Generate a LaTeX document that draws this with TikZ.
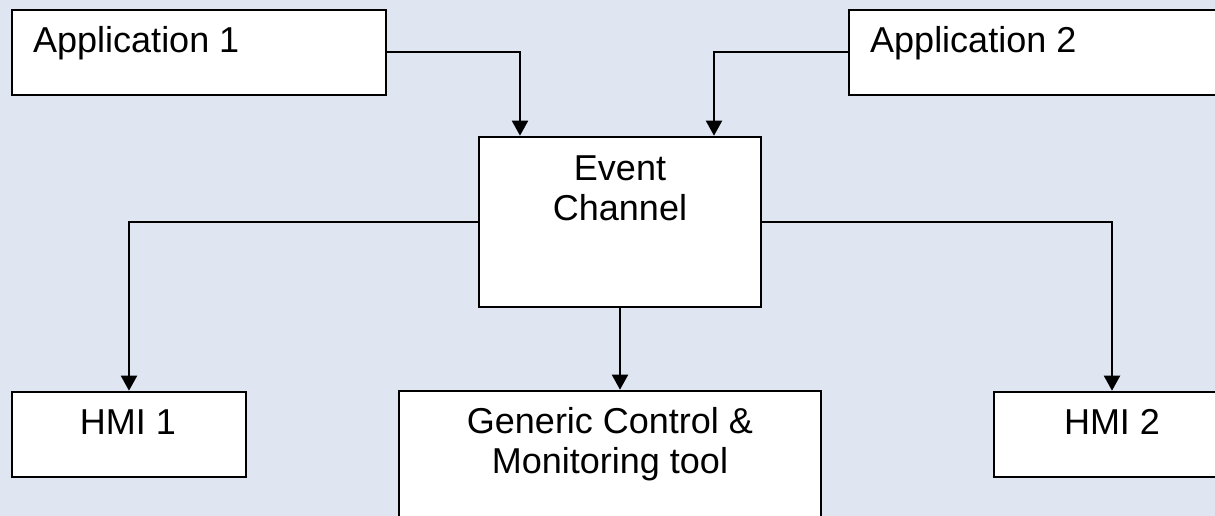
\documentclass[tikz,border=0pt]{standalone}
\usepackage{fontspec}
\setmainfont{Liberation Sans}
\usetikzlibrary{arrows.meta}
\definecolor{bgc}{RGB}{223,230,242}
\begin{document}
\begin{tikzpicture}[x=1pt,y=-1pt,
  box/.style={draw=black,fill=white,line width=2.6pt,inner sep=0pt},
  lbl/.style={inner sep=0pt,font=\fontsize{36}{40}\selectfont,align=center},
  conn/.style={draw=black,line width=2pt,-{Triangle[length=15pt,width=16pt]}}]
\useasboundingbox (0,0) rectangle (1215,516);
\fill[bgc] (0,0) rectangle (1215,516);
\clip (0,0) rectangle (1215,516);
% boxes
\node[box,minimum width=374pt,minimum height=85pt] (app1) at (199,52.5) {};
\node[box,minimum width=374pt,minimum height=85pt] (app2) at (1036,52.5) {};
\node[box,minimum width=282pt,minimum height=170pt] (ec) at (620,222) {};
\node[box,minimum width=234pt,minimum height=85pt] (hmi1) at (129,434.5) {};
\node[box,minimum width=236pt,minimum height=85pt] (hmi2) at (1112,434.5) {};
\node[box,minimum width=422pt,minimum height=170pt] (gcm) at (610,476) {};
% texts
\node[lbl,anchor=base west] (t1) at (33,53) {Application 1};
\node[lbl,anchor=base west] (t2) at (870,53) {Application 2};
\node[lbl,anchor=base] (t3) at (620,220) {Event\\Channel};
\node[lbl,anchor=base] (t4) at (128,434) {HMI 1};
\node[lbl,anchor=base] (t5) at (1112,434) {HMI 2};
\node[lbl,anchor=base] (t6) at (610,473) {Generic Control \&\\Monitoring tool};
% connectors
\draw[conn] (app1.east) -| ([xshift=-100pt]ec.north);
\draw[conn] (app2.west) -| ([xshift=94pt]ec.north);
\draw[conn] (ec.west) -| (hmi1.north);
\draw[conn] (ec.east) -| (hmi2.north);
\draw[conn] (ec.south) -- (ec.south |- gcm.north);
\end{tikzpicture}
\end{document}
